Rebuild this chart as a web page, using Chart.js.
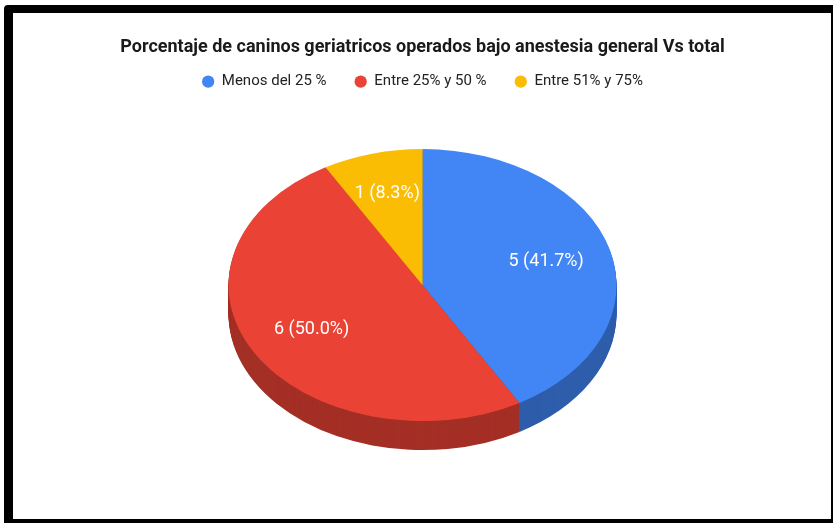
<!DOCTYPE html>
<html lang="es">
  <head>
    <meta charset="utf-8" />
    <script src="https://cdn.jsdelivr.net/npm/chart.js"></script>
    <style>
      body {
        margin: 0;
        background: #fff;
      }
      .wrap {
        position: relative;
        width: 834px;
        height: 523px;
      }
      .wrap canvas {
        position: absolute;
        left: 0;
        top: 0;
      }
      /* marco negro alrededor del gráfico */
      .frame {
        position: absolute;
        left: 4px;
        top: 5px;
        width: 829px;
        height: 518px;
        box-sizing: border-box;
        border-style: solid;
        border-color: #000;
        border-width: 8px 2px 4px 9px;
        border-top-left-radius: 4px;
        pointer-events: none;
      }
    </style>
    <title>Caninos geriatricos</title>
  </head>

  <body>
    <div class="wrap">
      <canvas id="myChart" width="834" height="523"></canvas>
      <div class="frame"></div>
    </div>

    <script>
      const categorias = ["Menos del 25 %", "Entre 25% y 50 %", "Entre 51% y 75%"];
      const casos = [5, 6, 1];
      const colores = ["#4285F4", "#EA4335", "#FBBC04"];
      const coloresLado = ["#2E5DAB", "#A42F25", "#B08403"];

      const titulo = "Porcentaje de caninos geriatricos operados bajo anestesia general Vs total";

      // aspecto del pastel en 3D
      const inclinacion = 136 / 194;
      const grosor = 29;

      function aplastar(ctx, cx, cy) {
        ctx.translate(cx, cy);
        ctx.scale(1, inclinacion);
        ctx.translate(-cx, -cy);
      }

      const pie3d = {
        id: "pie3d",
        beforeDatasetsDraw(chart) {
          const ctx = chart.ctx;
          const arcs = chart.getDatasetMeta(0).data;
          // pared lateral: copias más oscuras apiladas hacia abajo
          for (let d = grosor; d > 0; d--) {
            ctx.save();
            ctx.translate(0, d);
            aplastar(ctx, arcs[0].x, arcs[0].y);
            arcs.forEach((arc, i) => {
              const p = arc.getProps(["x", "y", "startAngle", "endAngle", "outerRadius"]);
              ctx.beginPath();
              ctx.moveTo(p.x, p.y);
              ctx.arc(p.x, p.y, p.outerRadius, p.startAngle, p.endAngle);
              ctx.closePath();
              ctx.fillStyle = coloresLado[i];
              ctx.fill();
            });
            ctx.restore();
          }
          ctx.save();
          aplastar(ctx, arcs[0].x, arcs[0].y);
        },
        afterDatasetsDraw(chart) {
          const ctx = chart.ctx;
          ctx.restore();
          const total = casos.reduce((a, b) => a + b, 0);
          const arcs = chart.getDatasetMeta(0).data;
          ctx.save();
          ctx.fillStyle = "#fff";
          ctx.font = "18px Roboto";
          ctx.textAlign = "center";
          ctx.textBaseline = "middle";
          arcs.forEach((arc, i) => {
            const p = arc.getProps(["x", "y", "startAngle", "endAngle", "outerRadius"]);
            const mid = (p.startAngle + p.endAngle) / 2;
            const r = p.outerRadius * (casos[i] / total < 0.1 ? 0.7 : 0.66);
            const x = p.x + Math.cos(mid) * r;
            const y = p.y + Math.sin(mid) * r * inclinacion;
            const pct = ((casos[i] / total) * 100).toFixed(1);
            ctx.fillText(casos[i] + " (" + pct + "%)", x, y);
          });
          ctx.restore();
        },
      };

      new Chart(document.getElementById("myChart"), {
        type: "pie",
        plugins: [pie3d],
        data: {
          labels: categorias,
          datasets: [
            {
              data: casos,
              backgroundColor: colores,
              borderWidth: 0,
              radius: 194,
              clip: false,
            },
          ],
        },
        options: {
          responsive: false,
          animation: false,
          events: [],
          layout: {
            padding: { top: 0, left: 13, right: 2, bottom: 52 },
          },
          plugins: {
            title: {
              display: true,
              text: titulo,
              color: "#1a1a1a",
              font: { family: "Roboto", size: 18, weight: "bold", lineHeight: 1.2 },
              padding: { top: 37, bottom: -12.4 },
            },
            legend: {
              position: "top",
              labels: {
                usePointStyle: true,
                pointStyle: "circle",
                boxHeight: 8.7,
                pointStyleWidth: 12.3,
                padding: 28,
                color: "#222",
                font: { family: "Roboto", size: 15 },
              },
            },
            tooltip: { enabled: false },
          },
        },
      });
    </script>
  </body>
</html>
